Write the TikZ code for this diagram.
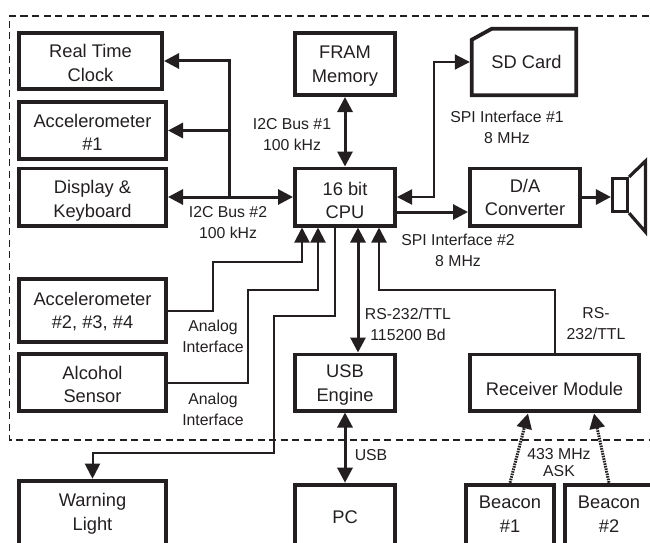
\documentclass[tikz,border=0pt]{standalone}
\usepackage{fontspec}
\setmainfont{Liberation Sans}
\usepackage{xcolor}
\usetikzlibrary{arrows.meta,positioning,calc}
\definecolor{inkblack}{HTML}{231F20}
\newcommand{\lineup}[1]{\rule{0pt}{#1pt}}
\tikzset{
  blockbox/.style={draw=inkblack,line width=3.8pt,inner sep=0pt,align=center,text=inkblack,
    font=\fontsize{18.3}{23.6}\selectfont},
  openbox/.style={blockbox,minimum height=72.8pt},
  buslabel/.style={inner sep=0pt,align=center,text=inkblack,
    font=\fontsize{15.8}{21}\selectfont},
  heavy/.style={draw=inkblack,line width=3pt},
  light/.style={draw=inkblack,line width=2pt},
  radio/.style={draw=inkblack,line width=3pt,dash pattern=on 1.6pt off 1pt},
  fence/.style={draw=inkblack,line width=1.2pt,dash pattern=on 7pt off 4.5pt}
}
\begin{document}
\begin{tikzpicture}[x=1pt,y=-1pt,>={Triangle[length=15pt,width=15pt]}]
  \useasboundingbox (0,0) rectangle (650,543);
  \draw[fence] (660,16) -- (9.5,16) -- (9.5,440) -- (660,440);
  % blocks inside the device
  \node[blockbox,minimum width=143.2pt,minimum height=56.2pt] (rtc) at (90.5,61) {\lineup{17.3}Real Time\\Clock};
  \node[blockbox,minimum width=147.2pt,minimum height=57.2pt] (acca) at (92.5,130.5) {\lineup{17.3}Accelerometer\\\#1};
  \node[blockbox,minimum width=147.2pt,minimum height=57.2pt] (disp) at (92.5,197) {\lineup{21.3}Display \&\\Keyboard};
  \node[blockbox,minimum width=100.2pt,minimum height=62.2pt] (fram) at (345,64) {\lineup{17.3}FRAM\\Memory};
  \node[blockbox,minimum width=100.2pt,minimum height=57.2pt] (cpu) at (345,197) {\lineup{20.3}16 bit\\CPU};
  \node[blockbox,minimum width=110.2pt,minimum height=57.2pt] (dac) at (525,197) {\lineup{14.3}D/A\\Converter};
  \node[blockbox,minimum width=147.2pt,minimum height=63.2pt] (accb) at (92.5,310.5) {\lineup{15.3}Accelerometer\\\#2, \#3, \#4};
  \node[blockbox,minimum width=147.2pt,minimum height=57.2pt] (alc) at (92.5,382.5) {\lineup{17.3}Alcohol\\Sensor};
  \node[blockbox,minimum width=100.2pt,minimum height=56.2pt] (usb) at (345,382.5) {\lineup{18.3}USB\\Engine};
  \node[blockbox,minimum width=169.2pt,minimum height=56.2pt] (recv) at (554.5,382.5) {\lineup{25.3}Receiver Module};
  % blocks outside, running off the page
  \node[openbox,text depth=10pt,minimum width=147.2pt] (warn) at (92.5,517) {Warning\\Light};
  \node[openbox,text depth=8pt,minimum width=100.2pt] (pc) at (345,521) {PC};
  \node[openbox,text depth=14pt,minimum width=88.2pt] (bcna) at (510,521) {Beacon\\\#1};
  \node[openbox,text depth=14pt,minimum width=88.2pt] (bcnb) at (609,521) {Beacon\\\#2};
  % SD card and speaker
  \node[inner sep=0pt,minimum width=108pt,minimum height=70pt,text=inkblack,
    font=\fontsize{18.3}{23.6}\selectfont] (sd) at (524,62) {\hspace*{5pt}SD Card};
  \draw[draw=inkblack,line width=3.8pt]
    ($(sd.north west)+(1.9,13)$) -- ($(sd.north west)+(22,1.9)$) -- ($(sd.north east)+(-1.9,1.9)$)
    -- ($(sd.south east)+(-1.9,-1.9)$) -- ($(sd.south west)+(1.9,-1.9)$) -- cycle;
  \node[draw=inkblack,line width=3.2pt,inner sep=0pt,minimum width=15pt,minimum height=33pt] (spk) at (620,195) {};
  \draw[draw=inkblack,line width=3.2pt] (spk.north east) -- (645.5,161) -- (645.5,232) -- (spk.south east);
  % bus on the left
  \coordinate (busjoin) at (229,197);
  \draw[heavy,->] (busjoin) |- (rtc.east);
  \draw[heavy,->] (busjoin) |- (acca.east);
  \draw[heavy,<->] (disp.east) -- (cpu.west);
  \draw[heavy,<->] (fram.south) -- (cpu.north);
  \coordinate (sdturn) at (433.5,197);
  \draw[light,<->] (cpu.east) -- (sdturn) |- (sd.west);
  \draw[heavy,->] ($(cpu.east)+(0,15)$) -- ($(dac.west)+(0,15)$);
  \draw[heavy,->] (dac.east) -- (spk.west |- dac.east);
  % analog lines into the CPU
  \coordinate (acctop) at (213,262);
  \coordinate (alctop) at (247.5,289.5);
  \coordinate (warnup) at (274,315.5);
  \coordinate (warnlow) at (274,453);
  \draw[light,->] (accb.east) -| (acctop) -| ($(cpu.south west)+(9,0)$);
  \draw[light,->] (alc.east) -| (alctop) -| ($(cpu.south west)+(25,0)$);
  \draw[light,->] ($(cpu.south west)+(41.5,0)$) |- (warnup) -- (warnlow) -| (warn.north);
  \draw[heavy,<->] (cpu.south -| usb.east) ++(-39,0) -- ($(usb.north east)+(-39,0)$);
  \coordinate (recvtop) at (555,289.5);
  \draw[light,<-] ($(cpu.south east)+(-18,0)$) |- (recvtop) -- (recv.north -| recvtop);
  \draw[heavy,<->] (usb.south) -- (pc.north);
  \draw[radio,->] (bcna.north) -- (528,413.5);
  \draw[radio,->] (bcnb.north) -- (594,413.5);
  % labels on the links
  \node[buslabel] (laba) at (292,134.5) {I2C Bus \#1\\100 kHz};
  \node[buslabel] (labb) at (228,222.5) {I2C Bus \#2\\100 kHz};
  \node[buslabel] (labc) at (507,127) {SPI Interface \#1\\8 MHz};
  \node[buslabel] (labd) at (458,250) {SPI Interface \#2\\8 MHz};
  \node[buslabel] (labe) at (213,336.5) {Analog\\Interface};
  \node[buslabel] (labf) at (213,409.5) {Analog\\Interface};
  \node[buslabel] (labg) at (408,324) {RS-232/TTL\\115200 Bd};
  \node[buslabel] (labh) at (596,324) {RS-\\232/TTL};
  \node[buslabel] (labi) at (371,455) {USB};
  \node[buslabel,font=\fontsize{15.8}{17.7}\selectfont] (labj) at (559,462.5) {433 MHz\\ASK};
\end{tikzpicture}
\end{document}
